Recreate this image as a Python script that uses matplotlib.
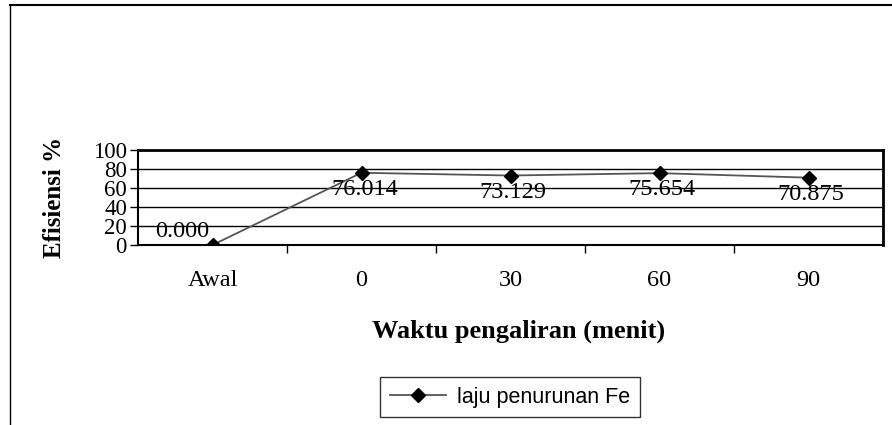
import matplotlib
matplotlib.use("Agg")
import matplotlib.pyplot as plt
from matplotlib.lines import Line2D

categories = ["Awal", "0", "30", "60", "90"]
values = [0.000, 76.014, 73.129, 75.654, 70.875]
label_texts = ["0.000", "76.014", "73.129", "75.654", "70.875"]
y_ticks = [0, 20, 40, 60, 80, 100]
series_name = "laju penurunan Fe"

serif = ["Liberation Serif", "DejaVu Serif"]
sans = ["Liberation Sans", "DejaVu Sans"]

fig = plt.figure(figsize=(8.92, 4.25), dpi=100)
ax = fig.add_axes([138 / 892, 1 - 245 / 425, 745 / 892, 95 / 425])

x = list(range(len(categories)))
line, = ax.plot(x, values, color="#555555", lw=1.3, marker="D", markersize=7,
                markerfacecolor="black", markeredgecolor="black", label=series_name,
                zorder=3)

ax.set_xlim(-0.5, len(categories) - 0.5)
ax.set_ylim(0, 100)
ax.set_yticks(y_ticks)
ax.set_yticklabels([str(v) for v in y_ticks], fontfamily=serif, fontsize=16.5)
ax.set_xticks([i + 0.5 for i in range(len(categories) - 1)])
ax.set_xticklabels([])
ax.set_xticks(x, minor=True)
ax.set_xticklabels(categories, minor=True, fontfamily=serif, fontsize=17.5)
ax.tick_params(axis="x", which="minor", length=0, pad=18)
ax.tick_params(axis="x", which="major", direction="out", length=6, width=1)
ax.tick_params(axis="y", direction="out", length=6, width=1, pad=2)

for yv in y_ticks[1:]:
    ax.axhline(yv, color="black", lw=1, zorder=1)

for s in ["left", "bottom"]:
    ax.spines[s].set_linewidth(1.5)
ax.spines["top"].set_linewidth(2)
ax.spines["right"].set_linewidth(2)

for i, (v, t) in enumerate(zip(values, label_texts)):
    if i == 0:
        off = (-22, 10)
    else:
        off = (2, -12)
    ax.annotate(t, (i, v), xytext=off, textcoords="offset points",
                ha="center", va="center", fontfamily=serif, fontsize=17.5, zorder=4)

ax.set_ylabel("Efisiensi %", fontfamily=serif, fontsize=18, fontweight="bold")
ax.yaxis.set_label_coords(-0.097, 0.5)
fig.text(519 / 892, 1 - 331 / 425, "Waktu pengaliran (menit)", ha="center", va="center",
         fontfamily=serif, fontsize=19, fontweight="bold")

leg = fig.legend(handles=[line], loc="center", bbox_to_anchor=(510 / 892, 1 - 397 / 425),
                 prop={"family": sans, "size": 15.5}, frameon=True, fancybox=False,
                 edgecolor="black", handlelength=2.6, handletextpad=0.5, borderpad=0.45)
leg.get_frame().set_linewidth(1)

fig.add_artist(Line2D([10 / 892, 10 / 892], [0, 1 - 5 / 425], transform=fig.transFigure,
                      color="black", lw=1))
fig.add_artist(Line2D([10 / 892, 1], [1 - 5 / 425, 1 - 5 / 425], transform=fig.transFigure,
                      color="black", lw=1.5))

fig.savefig("out.png", dpi=100)
